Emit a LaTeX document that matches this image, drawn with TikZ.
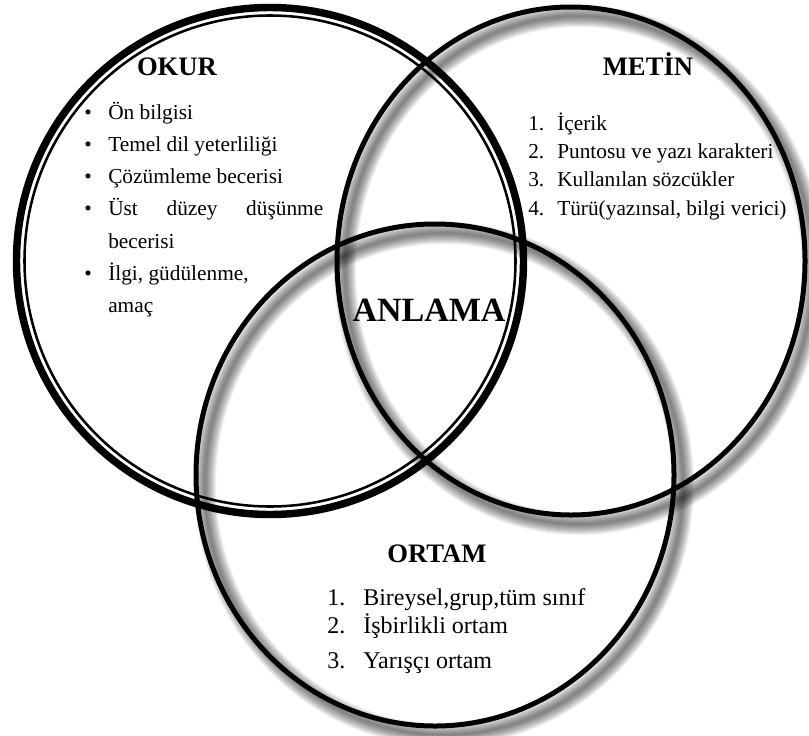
\documentclass[tikz,border=0pt]{standalone}
\usepackage{fontspec}
\setmainfont{Liberation Serif}
\begin{document}
\begin{tikzpicture}[x=0.75pt,y=-0.75pt,
  ring/.style={draw=black,line width=3.75pt},
  ringshadow/.style={draw=black,opacity=0.055},
  heading/.style={anchor=base,inner sep=0pt,font=\bfseries\fontsize{20}{24}\selectfont},
  centre/.style={anchor=base,inner sep=0pt,font=\bfseries\fontsize{25.5}{30}\selectfont},
  item/.style={anchor=base west,inner sep=0pt,font=\fontsize{16}{19}\selectfont},
  bigitem/.style={anchor=base west,inner sep=0pt,font=\fontsize{18}{21}\selectfont}
]
\useasboundingbox (0,0) rectangle (809,735);
\fill[white] (0,0) rectangle (809,735);

% soft shadows of the METIN and ORTAM rings
\foreach \w in {2,4,...,22} {
  \draw[ringshadow,line width=\w*0.75pt] (579,270) ellipse [x radius=234, y radius=254];
  \draw[ringshadow,line width=\w*0.75pt] (444,484) ellipse [x radius=239, y radius=251];
}

% OKUR: thick-thin double ring
\draw[draw=black,line width=5.6pt] (270,261) circle [radius=253.5];
\draw[draw=black,line width=1.9pt] (270,261) circle [radius=245.5];

% METIN and ORTAM rings
\draw[ring] (571,261) ellipse [x radius=234, y radius=254];
\draw[ring] (435,475) ellipse [x radius=239, y radius=251];

% headings
\node[heading] (okur) at (177,75) {OKUR};
\node[heading] (metin) at (648,75) {METİN};
\node[heading] (ortam) at (437,562) {ORTAM};
\node[centre] (anlama) at (429,321) {ANLAMA};

% OKUR list
\foreach \yy/\nm in {119/b1,151.3/b2,183.6/b3,215.9/b4,280.5/b5}
  \node[item] (\nm) at (84,\yy) {•};
\node[item] (o1) at (108,119) {Ön bilgisi};
\node[item] (o2) at (108,151.3) {Temel dil yeterliliği};
\node[item] (o3) at (108,183.6) {Çözümleme becerisi};
\node[item] (o4) at (108,215.9) {\makebox[161.25pt][s]{Üst düzey düşünme}};
\node[item] (o4b) at (108,248.2) {becerisi};
\node[item] (o5) at (108,280.5) {İlgi, güdülenme,};
\node[item] (o5b) at (108,312.8) {amaç};

% METIN list
\node[item] (mn1) at (528,130) {1.};
\node[item] (mn2) at (528,158.5) {2.};
\node[item] (mn3) at (528,186.8) {3.};
\node[item] (mn4) at (528,215) {4.};
\node[item] (m1) at (557,130) {İçerik};
\node[item] (m2) at (557,158.5) {Puntosu ve yazı karakteri};
\node[item] (m3) at (557,186.8) {Kullanılan sözcükler};
\node[item] (m4) at (557,215) {Türü(yazınsal, bilgi verici)};

% ORTAM list
\node[bigitem] (rn1) at (327,605) {1.};
\node[bigitem] (rn2) at (327,633) {2.};
\node[bigitem] (rn3) at (327,668) {3.};
\node[bigitem] (r1) at (363,605) {Bireysel,grup,tüm sınıf};
\node[bigitem] (r2) at (363,633) {İşbirlikli ortam};
\node[bigitem] (r3) at (363,668) {Yarışçı ortam};
\end{tikzpicture}
\end{document}
